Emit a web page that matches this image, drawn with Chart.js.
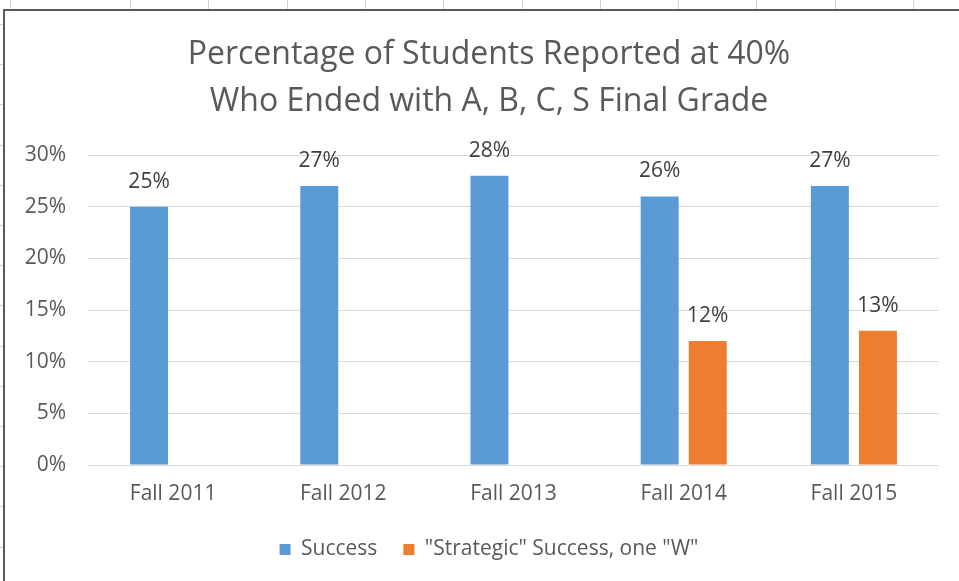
<!DOCTYPE html>
<html>
<head>
<meta charset="utf-8">
<title>Percentage of Students Reported at 40%</title>
<script src="https://cdn.jsdelivr.net/npm/chart.js@4.4.1/dist/chart.umd.min.js"></script>
<style>
    html, body {
        margin: 0;
        padding: 0;
        width: 959px;
        height: 581px;
        overflow: hidden;
        background: #fff;
    }
    /* faint sheet cell lines around the chart frame */
    .sheet-top {
        position: absolute;
        left: 130px;
        top: 0;
        width: 840px;
        height: 9px;
        background: repeating-linear-gradient(90deg, #d4d4d4 0 1px, transparent 1px 78.3px);
    }
    .sheet-corner {
        position: absolute;
        left: 10px;
        top: 0;
        width: 1px;
        height: 9px;
        background: #d4d4d4;
    }
    .sheet-left {
        position: absolute;
        left: 0;
        top: 24px;
        width: 3px;
        height: 560px;
        background: repeating-linear-gradient(180deg, #d4d4d4 0 1px, transparent 1px 40.2px);
    }
    .chart-frame {
        position: absolute;
        left: 3px;
        top: 9px;
        width: 1000px;
        height: 620px;
        border-left: 2px solid #5a5a5a;
        border-top: 2px solid #5a5a5a;
        background: #fff;
    }
    .chart-box {
        position: absolute;
        left: 0;
        top: 0;
        width: 968px;
        height: 590px;
    }
</style>
</head>
<body>
<div class="sheet-top"></div>
<div class="sheet-corner"></div>
<div class="sheet-left"></div>
<div class="chart-frame">
    <div class="chart-box"><canvas id="gradeChart"></canvas></div>
</div>

<script>
// Term labels and percentages
const terms = ['Fall 2011', 'Fall 2012', 'Fall 2013', 'Fall 2014', 'Fall 2015'];
const successPct = [25, 27, 28, 26, 27];
const strategicPct = [null, null, null, 12, 13];
const yTicks = [0, 5, 10, 15, 20, 25, 30];

const FONT = "'Open Sans', Lato, sans-serif";
const TEXT_SIZE = 21;

// Draws the value above each bar
const barValueLabels = {
    id: 'barValueLabels',
    afterDatasetsDraw(chart) {
        const ctx = chart.ctx;
        ctx.save();
        ctx.font = TEXT_SIZE + 'px ' + FONT;
        ctx.fillStyle = '#404040';
        ctx.textAlign = 'center';
        ctx.textBaseline = 'alphabetic';
        chart.data.datasets.forEach(function(ds, i) {
            const meta = chart.getDatasetMeta(i);
            meta.data.forEach(function(bar, j) {
                const v = ds.data[j];
                if (v === null || v === undefined) return;
                ctx.fillText(v + '%', bar.x, bar.y - 19);
            });
        });
        ctx.restore();
    }
};

document.addEventListener('DOMContentLoaded', function() {
    const ctx = document.getElementById('gradeChart');

    new Chart(ctx, {
        type: 'bar',
        data: {
            labels: terms,
            datasets: [{
                label: 'Success',
                data: successPct,
                backgroundColor: '#5b9bd5',
                borderWidth: 0
            }, {
                label: '"Strategic" Success, one "W"',
                data: strategicPct,
                backgroundColor: '#ed7d31',
                borderWidth: 0
            }]
        },
        options: {
            responsive: true,
            maintainAspectRatio: false,
            animation: false,
            categoryPercentage: 0.565,
            barPercentage: 0.79,
            layout: {
                padding: { left: 0, right: 0, top: 0, bottom: 31 }
            },
            plugins: {
                title: {
                    display: true,
                    text: ['Percentage of Students Reported at 40%', 'Who Ended with A, B, C, S Final Grade'],
                    color: '#595959',
                    font: { family: FONT, size: 32, weight: 'normal', lineHeight: 1.47 },
                    padding: { top: 20, bottom: 30 }
                },
                legend: {
                    position: 'bottom',
                    labels: {
                        color: '#595959',
                        font: { family: FONT, size: TEXT_SIZE },
                        boxWidth: 11,
                        boxHeight: 11,
                        padding: 26
                    }
                },
                tooltip: { enabled: false }
            },
            scales: {
                x: {
                    grid: { display: false, drawTicks: false },
                    border: { display: false },
                    ticks: {
                        color: '#595959',
                        font: { family: FONT, size: TEXT_SIZE },
                        padding: 16
                    },
                    afterFit: function(scale) {
                        scale.height = 48;
                    }
                },
                y: {
                    min: 0,
                    max: 30,
                    afterBuildTicks: function(scale) {
                        scale.ticks = yTicks.map(function(v) { return { value: v }; });
                    },
                    grid: { color: '#d9d9d9', lineWidth: 1, drawTicks: false },
                    border: { display: false },
                    ticks: {
                        color: '#595959',
                        font: { family: FONT, size: TEXT_SIZE },
                        padding: 22,
                        callback: function(value) {
                            return value + '%';
                        }
                    },
                    afterFit: function(scale) {
                        scale.width = 83;
                    }
                },
                // empty right axis keeps the plot narrower than the title box
                yRight: {
                    position: 'right',
                    grid: { display: false, drawTicks: false },
                    border: { display: false },
                    ticks: { display: false },
                    afterFit: function(scale) {
                        scale.width = 34;
                    }
                }
            }
        },
        plugins: [barValueLabels]
    });
});
</script>
</body>
</html>
